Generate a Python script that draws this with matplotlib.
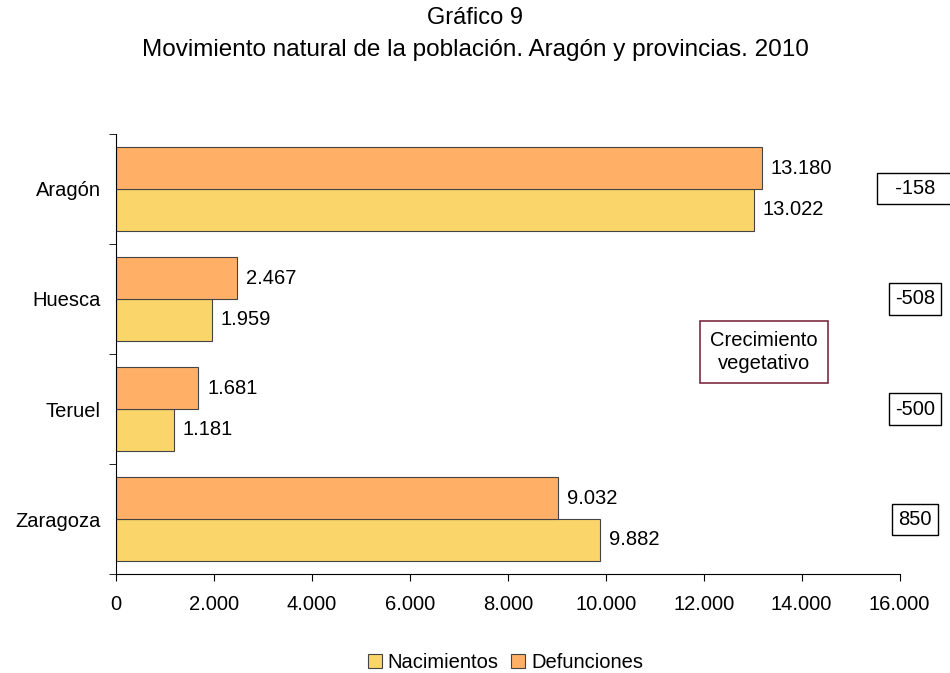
import matplotlib.pyplot as plt
import numpy as np

plt.rcParams['font.family'] = ['Liberation Sans', 'DejaVu Sans']

categorias = ["Aragón", "Huesca", "Teruel", "Zaragoza"]
nacimientos = [13022, 1959, 1181, 9882]
defunciones = [13180, 2467, 1681, 9032]
crecimiento = [-158, -508, -500, 850]
xticks = [0, 2000, 4000, 6000, 8000, 10000, 12000, 14000, 16000]


def fmt(v):
    return "{:,}".format(v).replace(",", ".")


fig = plt.figure(figsize=(9.5, 6.73), dpi=100)
ax = fig.add_axes([0.122, 0.147, 0.825, 0.654])

fs = 14.5
y = np.arange(len(categorias))[::-1]
h = 0.38
b_nac = ax.barh(y - h / 2, nacimientos, height=h, color="#FAD56A",
                edgecolor="#444444", linewidth=0.8, label="Nacimientos")
b_def = ax.barh(y + h / 2, defunciones, height=h, color="#FFB066",
                edgecolor="#444444", linewidth=0.8, label="Defunciones")

for bars, vals in [(b_nac, nacimientos), (b_def, defunciones)]:
    for bar, v in zip(bars, vals):
        ax.text(bar.get_width() + 180, bar.get_y() + bar.get_height() / 2,
                fmt(v), va="center", ha="left", fontsize=fs)

ax.set_xlim(0, 16000)
ax.set_ylim(-0.5, len(categorias) - 0.5)
ax.set_xticks(xticks)
ax.set_xticklabels([fmt(t) for t in xticks], fontsize=fs)
ax.set_yticks(y)
ax.set_yticklabels(categorias, fontsize=fs)
ax.set_yticks(np.arange(-0.5, len(categorias)), minor=True)
ax.tick_params(axis="y", which="major", length=0, pad=11)
ax.tick_params(axis="y", which="minor", length=5, direction="out")
ax.tick_params(axis="x", length=5, pad=10)
for s in ["top", "right"]:
    ax.spines[s].set_visible(False)

# crecimiento vegetativo boxes at the right
for i, (yi, c) in enumerate(zip(y, crecimiento)):
    yf = ax.transData.transform((0, yi))[1] / fig.bbox.height
    label = fmt(c)
    if i == 0:
        label = "  " + label + "  "
    fig.text(0.963, yf, label, ha="center", va="center", fontsize=fs,
             bbox=dict(boxstyle="square,pad=0.3", fc="white", ec="black", lw=1))

fig.text(0.804, 0.477, "Crecimiento\nvegetativo", ha="center", va="center",
         fontsize=fs, linespacing=1.3,
         bbox=dict(boxstyle="square,pad=0.5", fc="white", ec="#7B2C40", lw=1.2))

fig.text(0.5, 0.973, "Gráfico 9", ha="center", va="center", fontsize=17)
fig.text(0.5, 0.925, "Movimiento natural de la población. Aragón y provincias. 2010",
         ha="center", va="center", fontsize=17.5)

fig.legend(handles=[b_nac, b_def], loc="center", bbox_to_anchor=(0.532, 0.015),
           ncol=2, frameon=False, fontsize=fs, handlelength=0.7, handleheight=0.7,
           handletextpad=0.3, columnspacing=0.6)

fig.savefig("out.png", dpi=100)
